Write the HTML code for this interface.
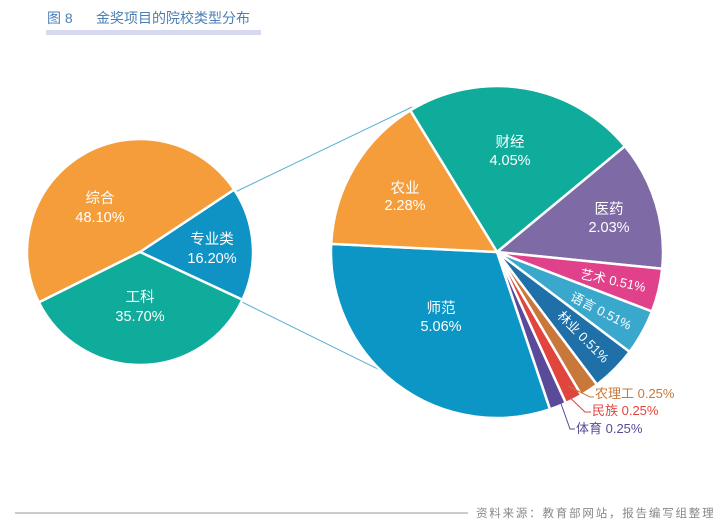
<!DOCTYPE html>
<html><head><meta charset="utf-8"><style>
body{margin:0;background:#fff;width:726px;height:530px;overflow:hidden}
svg{display:block;font-family:"Liberation Sans","Noto Sans CJK SC",sans-serif}
</style></head><body>
<svg id="s" width="726" height="530" viewBox="0 0 726 530">
<text x="47" y="23" font-size="14" fill="#4A7FB5">图 8<tspan x="96">金奖项目的院校类型分布</tspan></text>
<rect x="46" y="30" width="215" height="5" fill="#D6D9EF"/>
<line x1="233" y1="193" x2="412" y2="107" stroke="#5AAFD3" stroke-width="1"/>
<line x1="238" y1="300" x2="392" y2="376" stroke="#5AAFD3" stroke-width="1"/>
<g id="g"></g>
<g fill="#fff" font-size="14.5" text-anchor="middle">
<text x="100" y="203">综合</text><text x="100" y="222">48.10%</text>
<text x="212" y="244">专业类</text><text x="212" y="263">16.20%</text>
<text x="140" y="302">工科</text><text x="140" y="321">35.70%</text>
<text x="405" y="193">农业</text><text x="405" y="210">2.28%</text>
<text x="510" y="147">财经</text><text x="510" y="165">4.05%</text>
<text x="609" y="214">医药</text><text x="609" y="232">2.03%</text>
<text x="441" y="313">师范</text><text x="441" y="331">5.06%</text>
<text x="612" y="285" font-size="13" transform="rotate(12 612 285)">艺术 0.51%</text>
<text x="599" y="315" font-size="13" transform="rotate(27 599 315)">语言 0.51%</text>
<text x="580" y="340" font-size="13" transform="rotate(45 580 340)">林业 0.51%</text>
</g>
<g font-size="13">
<polyline points="568,386 590,397 594,397" fill="none" stroke="#C8783A"/>
<text x="595" y="398" fill="#C8783A">农理工 0.25%</text>
<polyline points="564,392 585,412 591,412" fill="none" stroke="#E0453E"/>
<text x="592" y="415" fill="#E0453E">民族 0.25%</text>
<polyline points="559,398 570,429 575,429" fill="none" stroke="#5A4A9A"/>
<text x="576" y="433" fill="#5A4A9A">体育 0.25%</text>
</g>
<line x1="15" y1="513" x2="468" y2="513" stroke="#999" stroke-width="1"/>
<text x="476" y="517" font-size="11.5" fill="#888" letter-spacing="1.8">资料来源：教育部网站，报告编写组整理</text>
</svg>
<script>
var g=document.getElementById('g'),NS='http://www.w3.org/2000/svg';
function sl(cx,cy,r,a0,a1,c){var R=Math.PI/180,x0=cx+r*Math.cos(a0*R),y0=cy+r*Math.sin(a0*R),x1=cx+r*Math.cos(a1*R),y1=cy+r*Math.sin(a1*R);
var p=document.createElementNS(NS,'path');p.setAttribute('d','M'+cx+','+cy+'L'+x0+','+y0+'A'+r+','+r+' 0 '+((a1-a0)>180?1:0)+' 1 '+x1+','+y1+'Z');
p.setAttribute('fill',c);p.setAttribute('stroke','#fff');p.setAttribute('stroke-width','2.5');p.setAttribute('stroke-linejoin','round');g.appendChild(p);}
sl(140,252,113,153.5,326.5,'#F59D3A');
sl(140,252,113,-33.5,25,'#0E93C4');
sl(140,252,113,25,153.5,'#0FAC9B');
var L=[[-121.5,-39.6,'#0FAC9B'],[-39.6,5.8,'#7E6BA6'],[5.8,21,'#E0418A'],[21,37,'#3AA7CC'],[37,53,'#1F6FA8'],[53,59.5,'#C8783A'],[59.5,65.5,'#E0453E'],[65.5,71.4,'#5A4A9A'],[71.4,182.8,'#0B96C6'],[182.8,238.5,'#F59D3A']];
L.forEach(function(s){sl(497,252,166,s[0],s[1],s[2]);});
</script>
</body></html>
